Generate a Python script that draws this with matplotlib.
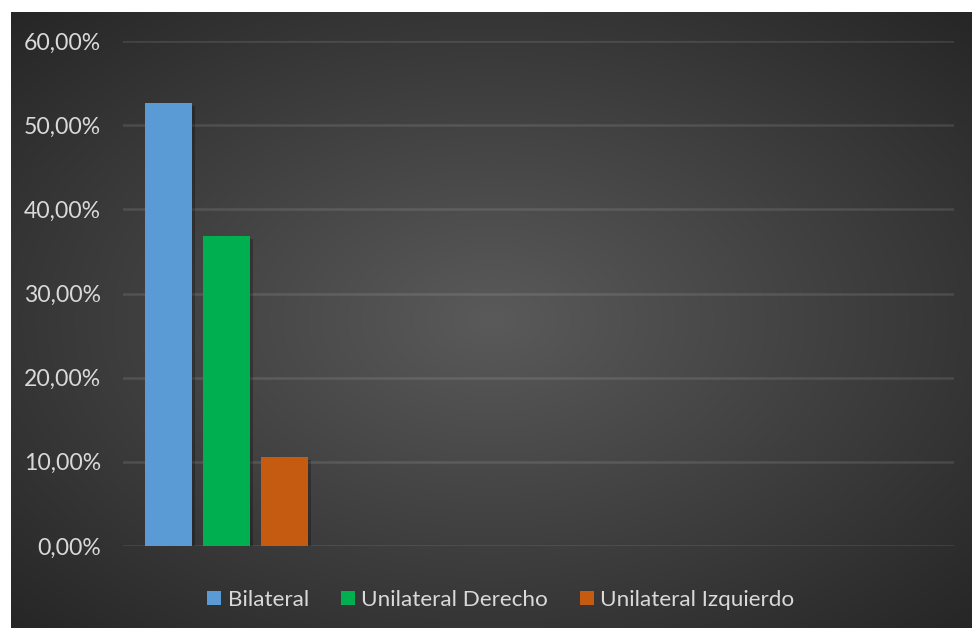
import numpy as np
import matplotlib
matplotlib.use('Agg')
from matplotlib import pyplot as plt
from matplotlib import patheffects as pe
from matplotlib.patches import Patch
from matplotlib.ticker import FuncFormatter

series = ['Bilateral', 'Unilateral Derecho', 'Unilateral Izquierdo']
values = [52.63, 36.84, 10.53]
colors = ['#5B9BD5', '#00B050', '#C55A11']
yticks = [0, 10, 20, 30, 40, 50, 60]

W, H = 972, 628
plt.rcParams['font.family'] = ['Lato', 'DejaVu Sans']
fig = plt.figure(figsize=(W / 100, H / 100), dpi=100, facecolor='white')

# dark radial gradient background of the chart area
bg = fig.add_axes([11 / W, 0, (W - 11) / W, (H - 12) / H])
bg.set_axis_off()
gx, gy = np.meshgrid(np.linspace(-1, 1, 400), np.linspace(-1, 1, 260))
r = np.clip(np.sqrt(gx ** 2 + gy ** 2) / np.sqrt(2), 0, 1)
c0, c1 = np.array([0x5a, 0x5a, 0x5a]) / 255, np.array([0x26, 0x26, 0x26]) / 255
img = c0[None, None, :] * (1 - r[..., None]) + c1[None, None, :] * r[..., None]
bg.imshow(img, aspect='auto', extent=(0, 1, 0, 1), interpolation='bilinear')
bg.set_xlim(0, 1)
bg.set_ylim(0, 1)

ax = fig.add_axes([123 / W, 82 / H, 831 / W, 505 / H])
ax.patch.set_alpha(0)
x = np.arange(len(values))
bars = ax.bar(x, values, width=0.81, color=colors, zorder=3)
for b in bars:
    b.set_path_effects([pe.SimplePatchShadow(offset=(2, -2), shadow_rgbFace='black', alpha=0.25),
                        pe.Normal()])

ax.set_xlim(-0.784, 13.54)
ax.set_ylim(0, 60)
ax.set_yticks(yticks)
ax.yaxis.set_major_formatter(FuncFormatter(lambda v, p: f'{v:.2f}'.replace('.', ',') + '%'))
ax.tick_params(axis='y', length=0, pad=16, labelsize=16.6, labelcolor='#D9D9D9')
ax.set_xticks([])
ax.grid(axis='y', color='white', alpha=0.11, linewidth=1.8, zorder=0)
for s in ax.spines.values():
    s.set_visible(False)

handles = [Patch(facecolor=c, label=s) for c, s in zip(colors, series)]
leg = fig.legend(handles=handles, loc='center', bbox_to_anchor=(501 / W, 28 / H), ncol=3,
                 frameon=False, fontsize=16.2, labelcolor='#D9D9D9',
                 handlelength=0.62, handleheight=0.62, handletextpad=0.3, columnspacing=1.4)

fig.savefig('out.png', dpi=100, facecolor='white')
